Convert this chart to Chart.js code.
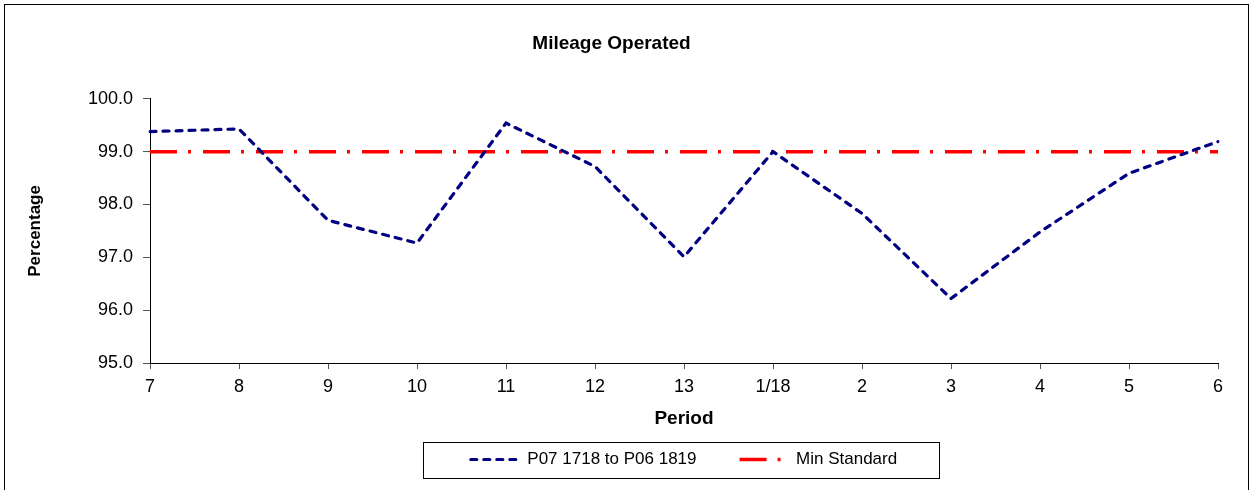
<!DOCTYPE html>
<html>
<head>
<meta charset="utf-8">
<title>Mileage Operated</title>
<script src="https://cdn.jsdelivr.net/npm/chart.js@4.4.1/dist/chart.umd.min.js"></script>
<style>
  html, body { margin: 0; padding: 0; background: #fff; }
  #wrap { width: 1251px; height: 490px; position: relative; }
</style>
</head>
<body>
<div id="wrap"><canvas id="mileageChart"></canvas></div>
<script>
// periods P07 17/18 through P06 18/19
const periods = ['7', '8', '9', '10', '11', '12', '13', '1/18', '2', '3', '4', '5', '6'];
const mileage = [99.38, 99.43, 97.70, 97.27, 99.54, 98.72, 97.01, 99.00, 97.83, 96.22, 97.48, 98.59, 99.19];
const minStandard = [99, 99, 99, 99, 99, 99, 99, 99, 99, 99, 99, 99, 99];
const yTicks = [95, 96, 97, 98, 99, 100];

const FONT = "'Liberation Sans', Arial, sans-serif";

// white background, outer frame and the box round the legend
const framePlugin = {
    id: 'frame',
    beforeDraw(chart) {
        const c = chart.ctx;
        c.save();
        c.fillStyle = '#fff';
        c.fillRect(0, 0, chart.width, chart.height);
        c.restore();
    },
    afterDraw(chart) {
        const c = chart.ctx;
        c.save();
        c.strokeStyle = '#000';
        c.lineWidth = 1;
        c.strokeRect(4.5, 4.5, chart.width - 7, chart.height + 5);

        const boxes = chart.legend.legendHitBoxes;
        if (boxes && boxes.length) {
            const first = boxes[0], last = boxes[boxes.length - 1];
            const left = first.left - 48;
            const right = last.left + last.width + 42;
            const mid = first.top + first.height / 2;
            c.strokeRect(Math.round(left) + 0.5, Math.round(mid - 18) + 0.5,
                Math.round(right - left), 36);
        }
        c.restore();
    }
};

const ctx = document.getElementById('mileageChart').getContext('2d');

const mileageChart = new Chart(ctx, {
    type: 'line',
    data: {
        labels: periods,
        datasets: [{
            label: 'P07 1718 to P06 1819',
            data: mileage,
            borderColor: '#000080',
            backgroundColor: '#000080',
            borderWidth: 3.2,
            borderDash: [6, 7],
            borderCapStyle: 'round',
            pointRadius: 0,
            pointStyle: 'line',
            tension: 0,
            fill: false
        }, {
            label: 'Min Standard',
            data: minStandard,
            borderColor: '#ff0000',
            backgroundColor: '#ff0000',
            borderWidth: 3.5,
            borderDash: [27, 11, 3, 12],
            borderCapStyle: 'butt',
            pointRadius: 0,
            pointStyle: 'line',
            tension: 0,
            fill: false
        }]
    },
    options: {
        responsive: true,
        maintainAspectRatio: false,
        animation: false,
        layout: {
            padding: { top: 0, left: 5, right: 33, bottom: 12 }
        },
        plugins: {
            title: {
                display: true,
                text: 'Mileage Operated',
                color: '#000',
                font: { family: FONT, size: 19, weight: 'bold' },
                padding: { top: 32, bottom: 44 }
            },
            legend: {
                display: true,
                position: 'bottom',
                fullSize: false,
                labels: {
                    color: '#000',
                    font: { family: FONT, size: 17 },
                    usePointStyle: true,
                    pointStyleWidth: 48,
                    padding: 10,
                    generateLabels(chart) {
                        const items = Chart.defaults.plugins.legend.labels.generateLabels(chart);
                        items.forEach(item => {
                            const ds = chart.data.datasets[item.datasetIndex];
                            item.lineDash = ds.borderDash;
                            item.lineCap = ds.borderCapStyle;
                            item.lineWidth = ds.borderWidth;
                            item.strokeStyle = ds.borderColor;
                        });
                        // a wider gap between the two entries, like the original legend
                        if (items[0]) items[0].text = items[0].text + '       ';
                        return items;
                    }
                }
            },
            tooltip: { enabled: false }
        },
        scales: {
            x: {
                type: 'category',
                offset: false,
                afterFit(scale) { scale.height = 78; },
                grid: {
                    display: true,
                    drawOnChartArea: false,
                    drawTicks: true,
                    tickLength: 6,
                    color: '#555'
                },
                border: { display: true, color: '#000', width: 1 },
                ticks: {
                    color: '#000',
                    font: { family: FONT, size: 18 },
                    padding: 7,
                    maxRotation: 0,
                    autoSkip: false
                },
                title: {
                    display: true,
                    text: 'Period',
                    color: '#000',
                    font: { family: FONT, size: 19, weight: 'bold' },
                    padding: { top: 0, bottom: 11 }
                }
            },
            y: {
                min: yTicks[0],
                max: yTicks[yTicks.length - 1],
                afterFit(scale) { scale.width = 145; },
                afterBuildTicks(scale) {
                    scale.ticks = yTicks.map(v => ({ value: v }));
                },
                grid: {
                    display: true,
                    drawOnChartArea: false,
                    drawTicks: true,
                    tickLength: 7,
                    color: '#555'
                },
                border: { display: true, color: '#000', width: 1 },
                ticks: {
                    color: '#000',
                    font: { family: FONT, size: 18 },
                    padding: 10,
                    callback: v => Number(v).toFixed(1)
                },
                title: {
                    display: true,
                    text: 'Percentage',
                    color: '#000',
                    font: { family: FONT, size: 17, weight: 'bold' },
                    padding: { top: 20, bottom: 0 }
                }
            }
        }
    },
    plugins: [framePlugin]
});
</script>
</body>
</html>
